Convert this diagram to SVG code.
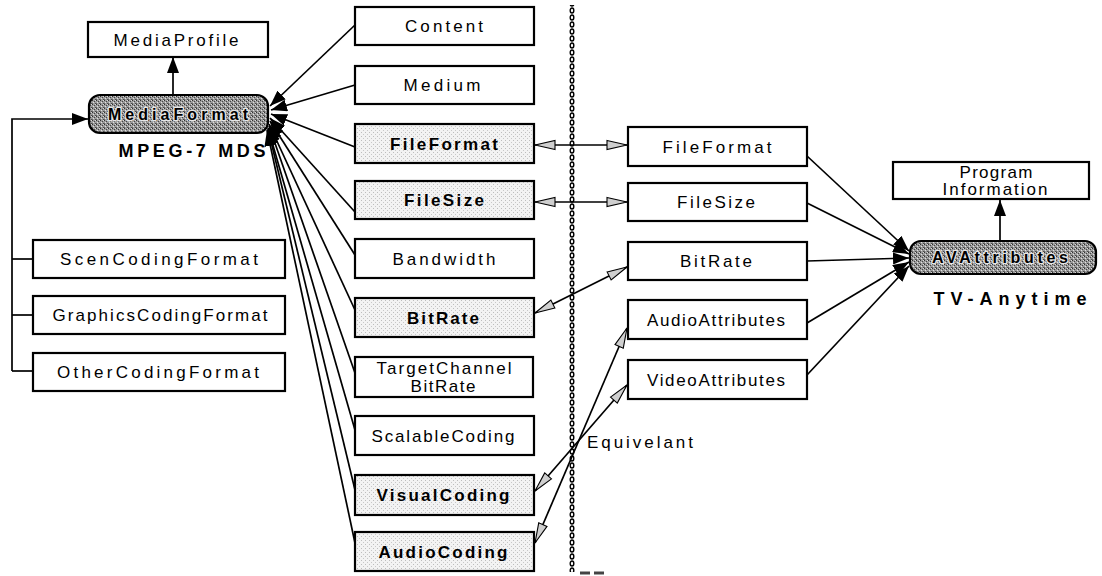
<svg xmlns="http://www.w3.org/2000/svg" width="1102" height="576" viewBox="0 0 1102 576">
  <defs>
    <!-- dithered fills -->
    <pattern id="ditherDark" width="4" height="4" patternUnits="userSpaceOnUse">
      <rect width="4" height="4" fill="#9c9c9c"/>
      <rect x="0" y="0" width="1" height="1" fill="#333"/>
      <rect x="2" y="1" width="1" height="1" fill="#444"/>
      <rect x="1" y="2" width="1" height="1" fill="#e0e0e0"/>
      <rect x="3" y="3" width="1" height="1" fill="#4a4a4a"/>
      <rect x="3" y="0" width="1" height="1" fill="#d8d8d8"/>
      <rect x="0" y="3" width="1" height="1" fill="#666"/>
    </pattern>
    <pattern id="ditherLight" width="4" height="4" patternUnits="userSpaceOnUse">
      <rect width="4" height="4" fill="#f3f3f3"/>
      <rect x="1" y="0" width="1" height="1" fill="#bdbdbd"/>
      <rect x="3" y="2" width="1" height="1" fill="#c8c8c8"/>
    </pattern>
    <pattern id="dotLine" width="8" height="7" patternUnits="userSpaceOnUse">
      <ellipse cx="4" cy="3.5" rx="1.8" ry="2.5" fill="#fff" stroke="#000" stroke-width="1.4"/>
    </pattern>
    <marker id="arrowFill" viewBox="0 0 16 12" refX="16" refY="6" markerWidth="16" markerHeight="12" markerUnits="userSpaceOnUse" orient="auto">
      <path d="M0,0 L16,6 L0,12 z" fill="#000"/>
    </marker>
    <marker id="arrowOpen" viewBox="0 0 22 12" refX="21" refY="6" markerWidth="22" markerHeight="12" markerUnits="userSpaceOnUse" orient="auto-start-reverse">
      <path d="M1,1.5 L21,6 L1,10.5 z" fill="#cfcfcf" stroke="#000" stroke-width="1.1"/>
    </marker>
  </defs>
  <style>
    .box { fill: #fff; stroke: #000; stroke-width: 2.2; }
    .grey { fill: url(#ditherLight); stroke: #000; stroke-width: 2.2; }
    .dark { fill: url(#ditherDark); stroke: #000; stroke-width: 2.2; }
    text { font-family: "Liberation Sans", Arial, sans-serif; font-size: 17px; text-anchor: middle; fill: #000; }
    .b { font-weight: bold; }
    .halo { font-weight: bold; font-size: 16px; paint-order: stroke; stroke: #e6e6e6; stroke-width: 2.5px; stroke-linejoin: round; }
    .title { font-weight: bold; font-size: 18px; }
    .conn line, .conn polyline { stroke: #000; stroke-width: 1.7; fill: none; }
  </style>

  <!-- equivalence divider -->
  <g id="divider">
    <rect x="569" y="5" width="8" height="567" fill="url(#dotLine)"/>
    <line x1="580" y1="573" x2="590" y2="573" stroke="#444" stroke-width="3"/>
    <line x1="594" y1="573" x2="604" y2="573" stroke="#444" stroke-width="3"/>
    <text x="640" y="448" textLength="106" lengthAdjust="spacing">Equivelant</text>
  </g>

  <!-- connectors -->
  <g id="connectors" class="conn">
    <!-- MediaFormat -> MediaProfile -->
    <line x1="173" y1="95" x2="173" y2="57" marker-end="url(#arrowFill)"/>
    <!-- coding format boxes -> MediaFormat -->
    <polyline points="12,371 12,119 88,119" marker-end="url(#arrowFill)"/>
    <line x1="12" y1="259" x2="33" y2="259"/>
    <line x1="12" y1="315" x2="33" y2="315"/>
    <line x1="12" y1="371" x2="33" y2="371"/>
    <!-- MPEG-7 children -> MediaFormat -->
    <line x1="355" y1="25" x2="270" y2="106" marker-end="url(#arrowFill)"/>
    <line x1="355" y1="85" x2="271" y2="110" marker-end="url(#arrowFill)"/>
    <line x1="355" y1="147" x2="271" y2="114" marker-end="url(#arrowFill)"/>
    <line x1="355" y1="212" x2="270" y2="118" marker-end="url(#arrowFill)"/>
    <line x1="355" y1="255" x2="270" y2="121" marker-end="url(#arrowFill)"/>
    <line x1="355" y1="310" x2="269" y2="124" marker-end="url(#arrowFill)"/>
    <line x1="355" y1="373" x2="269" y2="126" marker-end="url(#arrowFill)"/>
    <line x1="355" y1="430" x2="268" y2="128" marker-end="url(#arrowFill)"/>
    <line x1="355" y1="490" x2="268" y2="129" marker-end="url(#arrowFill)"/>
    <line x1="355" y1="543" x2="267" y2="130" marker-end="url(#arrowFill)"/>
    <!-- equivalences -->
    <line x1="535" y1="145" x2="627" y2="145" marker-start="url(#arrowOpen)" marker-end="url(#arrowOpen)"/>
    <line x1="535" y1="202" x2="627" y2="202" marker-start="url(#arrowOpen)" marker-end="url(#arrowOpen)"/>
    <line x1="535" y1="313" x2="627" y2="267" marker-start="url(#arrowOpen)" marker-end="url(#arrowOpen)"/>
    <line x1="535" y1="491" x2="627" y2="385" marker-start="url(#arrowOpen)" marker-end="url(#arrowOpen)"/>
    <line x1="535" y1="543" x2="627" y2="328" marker-start="url(#arrowOpen)" marker-end="url(#arrowOpen)"/>
    <!-- TV-Anytime children -> AVAttributes -->
    <line x1="807" y1="156" x2="909" y2="251" marker-end="url(#arrowFill)"/>
    <line x1="807" y1="203" x2="909" y2="254" marker-end="url(#arrowFill)"/>
    <line x1="807" y1="261" x2="909" y2="258" marker-end="url(#arrowFill)"/>
    <line x1="807" y1="323" x2="909" y2="262" marker-end="url(#arrowFill)"/>
    <line x1="807" y1="375" x2="909" y2="266" marker-end="url(#arrowFill)"/>
    <!-- AVAttributes -> Program Information -->
    <line x1="1000" y1="242" x2="1000" y2="200" marker-end="url(#arrowFill)"/>
  </g>

  <!-- MPEG-7 MDS side -->
  <g id="mediaProfile"><rect class="box" x="88" y="22" width="180" height="35"/><text x="176" y="46" textLength="125" lengthAdjust="spacing">MediaProfile</text></g>
  <g id="mediaFormat"><rect class="dark" x="89" y="95" width="179" height="38" rx="11"/><text class="halo" x="178" y="120" textLength="140" lengthAdjust="spacing">MediaFormat</text></g>
  <g id="mpeg7Label"><text class="title" x="192" y="157" textLength="147" lengthAdjust="spacing">MPEG-7 MDS</text></g>
  <g id="scenCodingFormat"><rect class="box" x="33" y="240" width="252" height="38"/><text x="159" y="265" textLength="198" lengthAdjust="spacing">ScenCodingFormat</text></g>
  <g id="graphicsCodingFormat"><rect class="box" x="33" y="296" width="252" height="38"/><text x="160" y="321" textLength="215" lengthAdjust="spacing">GraphicsCodingFormat</text></g>
  <g id="otherCodingFormat"><rect class="box" x="33" y="353" width="252" height="38"/><text x="158" y="378" textLength="202" lengthAdjust="spacing">OtherCodingFormat</text></g>

  <g id="content"><rect class="box" x="355" y="7" width="179" height="38"/><text x="444" y="32" textLength="78" lengthAdjust="spacing">Content</text></g>
  <g id="medium"><rect class="box" x="355" y="66" width="179" height="38"/><text x="442" y="91" textLength="77" lengthAdjust="spacing">Medium</text></g>
  <g id="fileFormatMds"><rect class="grey" x="355" y="124" width="179" height="39"/><text class="b" x="444" y="150" textLength="108" lengthAdjust="spacing">FileFormat</text></g>
  <g id="fileSizeMds"><rect class="grey" x="355" y="181" width="179" height="38"/><text class="b" x="444" y="206" textLength="80" lengthAdjust="spacing">FileSize</text></g>
  <g id="bandwidth"><rect class="box" x="355" y="239" width="179" height="39"/><text x="444" y="265" textLength="103" lengthAdjust="spacing">Bandwidth</text></g>
  <g id="bitRateMds"><rect class="grey" x="355" y="298" width="179" height="39"/><text class="b" x="443" y="324" textLength="72" lengthAdjust="spacing">BitRate</text></g>
  <g id="targetChannelBitRate"><rect class="box" x="355" y="357" width="178" height="40"/><text x="444" y="374" textLength="135" lengthAdjust="spacing">TargetChannel</text><text x="443" y="392" textLength="65" lengthAdjust="spacing">BitRate</text></g>
  <g id="scalableCoding"><rect class="box" x="355" y="416" width="179" height="39"/><text x="443" y="442" textLength="143" lengthAdjust="spacing">ScalableCoding</text></g>
  <g id="visualCoding"><rect class="grey" x="355" y="475" width="179" height="40"/><text class="b" x="443" y="501" textLength="133" lengthAdjust="spacing">VisualCoding</text></g>
  <g id="audioCoding"><rect class="grey" x="355" y="532" width="179" height="39"/><text class="b" x="443" y="558" textLength="129" lengthAdjust="spacing">AudioCoding</text></g>

  <!-- TV-Anytime side -->
  <g id="fileFormatTva"><rect class="box" x="628" y="127" width="179" height="39"/><text x="717" y="153" textLength="109" lengthAdjust="spacing">FileFormat</text></g>
  <g id="fileSizeTva"><rect class="box" x="628" y="183" width="179" height="38"/><text x="716" y="208" textLength="78" lengthAdjust="spacing">FileSize</text></g>
  <g id="bitRateTva"><rect class="box" x="628" y="242" width="179" height="38"/><text x="716" y="267" textLength="72" lengthAdjust="spacing">BitRate</text></g>
  <g id="audioAttributes"><rect class="box" x="628" y="300" width="179" height="39"/><text x="716" y="326" textLength="138" lengthAdjust="spacing">AudioAttributes</text></g>
  <g id="videoAttributes"><rect class="box" x="628" y="360" width="179" height="39"/><text x="716" y="386" textLength="138" lengthAdjust="spacing">VideoAttributes</text></g>
  <g id="programInformation"><rect class="box" x="893" y="162" width="196" height="37"/><text x="996" y="178" textLength="73" lengthAdjust="spacing">Program</text><text x="995" y="195" textLength="105" lengthAdjust="spacing">Information</text></g>
  <g id="avAttributes"><rect class="dark" x="910" y="241" width="186" height="33" rx="11"/><text class="halo" x="1000" y="263" textLength="136" lengthAdjust="spacing">AVAttributes</text></g>
  <g id="tvaLabel"><text class="title" x="1010" y="305" textLength="153" lengthAdjust="spacing">TV-Anytime</text></g>
</svg>
